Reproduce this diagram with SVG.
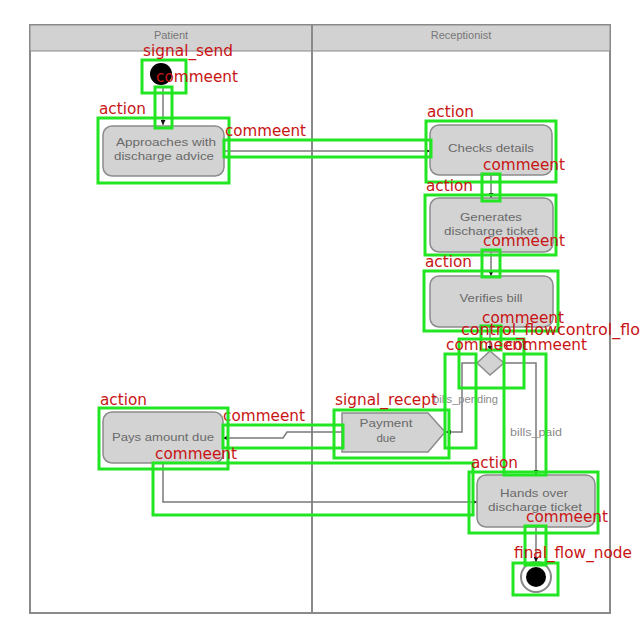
<svg xmlns="http://www.w3.org/2000/svg" width="640" height="640" viewBox="0 0 640 640">
<style>
.lane{fill:#fff;stroke:#8a8a8a;stroke-width:2}
.hdr{fill:#d2d2d2;stroke:#8a8a8a;stroke-width:1}
.hdrt{font-family:"Liberation Sans",Arial,sans-serif;font-size:11px;fill:#777;text-anchor:middle}
.act{fill:#d3d3d3;stroke:#8c8c8c;stroke-width:1.5}
.nt{font-family:"Liberation Sans",Arial,sans-serif;font-size:11.5px;fill:#6a6a6a;text-anchor:middle}
.edge{fill:none;stroke:#7a7a7a;stroke-width:1.5}
.el{font-family:"Liberation Sans",Arial,sans-serif;font-size:10.5px;fill:#8a8a8a}
.bb{fill:none;stroke:#22e622;stroke-width:3}
.lb{font-family:"DejaVu Sans",sans-serif;font-size:15px;fill:#c81414}
</style>
<defs>
<marker id="arr" viewBox="0 0 10 10" refX="10" refY="5" markerWidth="5" markerHeight="5" orient="auto" markerUnits="userSpaceOnUse">
<path d="M0,0 L10,5 L0,10 z" fill="#111"/>
</marker>
</defs>
<rect width="640" height="640" fill="#fff"/>
<g id="frame">
<rect class="lane" x="30" y="25" width="580" height="588"/>
<rect class="hdr" x="30" y="25" width="580" height="26"/>
<line x1="312" y1="25" x2="312" y2="613" stroke="#8a8a8a" stroke-width="2"/>
<text class="hdrt" x="171" y="39">Patient</text>
<text class="hdrt" x="461" y="39">Receptionist</text>
</g>
<g id="connectors">
<path class="edge" d="M163,86 V125" marker-end="url(#arr)"/>
<path class="edge" d="M224,151 H430" marker-end="url(#arr)"/>
<path class="edge" d="M491,175 V198" marker-end="url(#arr)"/>
<path class="edge" d="M491,252 V276" marker-end="url(#arr)"/>
<path class="edge" d="M490,327 V351" marker-end="url(#arr)"/>
<path class="edge" d="M477,363 H462 V432 H446" marker-end="url(#arr)"/>
<path class="edge" d="M504,363 H536 V475" marker-end="url(#arr)"/>
<path class="edge" d="M342,432 H287 L283,438 H223" marker-end="url(#arr)"/>
<path class="edge" d="M163,463 V502 H477" marker-end="url(#arr)"/>
<path class="edge" d="M536,527 V562" marker-end="url(#arr)"/>
<text class="el" x="433" y="403" textLength="65" lengthAdjust="spacingAndGlyphs">bills_pending</text>
<text class="el" x="510" y="436" textLength="52" lengthAdjust="spacingAndGlyphs">bills_paid</text>
</g>
<g id="initial">
<circle cx="161" cy="74" r="11" fill="#000"/>
</g>
<g id="approaches">
<rect class="act" x="103" y="126" width="121" height="50" rx="9"/>
<text class="nt" x="166" y="146" textLength="100" lengthAdjust="spacingAndGlyphs">Approaches with</text>
<text class="nt" x="164" y="160" textLength="100" lengthAdjust="spacingAndGlyphs">discharge advice</text>
</g>
<g id="checks">
<rect class="act" x="430" y="125" width="122" height="50" rx="9"/>
<text class="nt" x="491" y="152" textLength="86" lengthAdjust="spacingAndGlyphs">Checks details</text>
</g>
<g id="generates">
<rect class="act" x="430" y="198" width="123" height="54" rx="9"/>
<text class="nt" x="491" y="221" textLength="62" lengthAdjust="spacingAndGlyphs">Generates</text>
<text class="nt" x="491" y="235" textLength="94" lengthAdjust="spacingAndGlyphs">discharge ticket</text>
</g>
<g id="verifies">
<rect class="act" x="430" y="276" width="123" height="51" rx="9"/>
<text class="nt" x="491" y="302" textLength="63" lengthAdjust="spacingAndGlyphs">Verifies bill</text>
</g>
<g id="decision">
<polygon points="490,351 504,363 490,375 477,363" fill="#d3d3d3" stroke="#8c8c8c" stroke-width="1.5"/>
</g>
<g id="payment">
<polygon class="act" points="342,413 428,413 445,432 428,452 342,452"/>
<text class="nt" x="386" y="427" textLength="53" lengthAdjust="spacingAndGlyphs">Payment</text>
<text class="nt" x="386" y="442">due</text>
</g>
<g id="pays">
<rect class="act" x="103" y="412" width="120" height="51" rx="9"/>
<text class="nt" x="163" y="441" textLength="102" lengthAdjust="spacingAndGlyphs">Pays amount due</text>
</g>
<g id="hands">
<rect class="act" x="477" y="475" width="118" height="52" rx="9"/>
<text class="nt" x="534" y="497" textLength="68" lengthAdjust="spacingAndGlyphs">Hands over</text>
<text class="nt" x="535" y="511" textLength="94" lengthAdjust="spacingAndGlyphs">discharge ticket</text>
</g>
<g id="final">
<circle cx="536" cy="577" r="15" fill="#fff" stroke="#888" stroke-width="2"/>
<circle cx="536" cy="577" r="10" fill="#000"/>
</g>
<g id="annotations">
<rect class="bb" x="142" y="60" width="44" height="33"/>
<text class="lb" x="143" y="56" textLength="90" lengthAdjust="spacingAndGlyphs">signal_send</text>
<rect class="bb" x="155" y="87" width="17" height="41"/>
<text class="lb" x="156" y="82" textLength="82" lengthAdjust="spacingAndGlyphs">commeent</text>
<rect class="bb" x="98" y="118" width="131" height="65"/>
<text class="lb" x="99" y="114" textLength="47" lengthAdjust="spacingAndGlyphs">action</text>
<rect class="bb" x="224" y="140" width="207" height="17"/>
<text class="lb" x="225" y="136" textLength="81" lengthAdjust="spacingAndGlyphs">commeent</text>
<rect class="bb" x="426" y="121" width="130" height="61"/>
<text class="lb" x="427" y="117" textLength="47" lengthAdjust="spacingAndGlyphs">action</text>
<rect class="bb" x="482" y="174" width="18" height="27"/>
<text class="lb" x="483" y="170" textLength="82" lengthAdjust="spacingAndGlyphs">commeent</text>
<rect class="bb" x="425" y="195" width="131" height="60"/>
<text class="lb" x="426" y="191" textLength="47" lengthAdjust="spacingAndGlyphs">action</text>
<rect class="bb" x="482" y="250" width="18" height="27"/>
<text class="lb" x="483" y="246" textLength="82" lengthAdjust="spacingAndGlyphs">commeent</text>
<rect class="bb" x="424" y="271" width="134" height="60"/>
<text class="lb" x="425" y="267" textLength="47" lengthAdjust="spacingAndGlyphs">action</text>
<rect class="bb" x="481" y="326" width="20" height="24"/>
<text class="lb" x="482" y="323" textLength="82" lengthAdjust="spacingAndGlyphs">commeent</text>
<rect class="bb" x="459" y="339" width="65" height="49"/>
<text class="lb" x="461" y="335" textLength="96" lengthAdjust="spacingAndGlyphs">control_flow</text>
<text class="lb" x="557" y="335" textLength="96" lengthAdjust="spacingAndGlyphs">control_flow</text>
<rect class="bb" x="445" y="354" width="31" height="94"/>
<text class="lb" x="446" y="350" textLength="82" lengthAdjust="spacingAndGlyphs">commeent</text>
<rect class="bb" x="504" y="354" width="42" height="121"/>
<text class="lb" x="505" y="350" textLength="82" lengthAdjust="spacingAndGlyphs">commeent</text>
<rect class="bb" x="334" y="410" width="115" height="48"/>
<text class="lb" x="335" y="405" textLength="102" lengthAdjust="spacingAndGlyphs">signal_recept</text>
<rect class="bb" x="223" y="425" width="120" height="23"/>
<text class="lb" x="223" y="421" textLength="82" lengthAdjust="spacingAndGlyphs">commeent</text>
<rect class="bb" x="99" y="408" width="129" height="61"/>
<text class="lb" x="100" y="405" textLength="47" lengthAdjust="spacingAndGlyphs">action</text>
<rect class="bb" x="153" y="463" width="320" height="52"/>
<text class="lb" x="155" y="459" textLength="82" lengthAdjust="spacingAndGlyphs">commeent</text>
<rect class="bb" x="469" y="472" width="129" height="61"/>
<text class="lb" x="471" y="468" textLength="47" lengthAdjust="spacingAndGlyphs">action</text>
<rect class="bb" x="525" y="526" width="21" height="39"/>
<text class="lb" x="526" y="522" textLength="82" lengthAdjust="spacingAndGlyphs">commeent</text>
<rect class="bb" x="513" y="563" width="45" height="32"/>
<text class="lb" x="514" y="558" textLength="118" lengthAdjust="spacingAndGlyphs">final_flow_node</text>
</g>
</svg>
